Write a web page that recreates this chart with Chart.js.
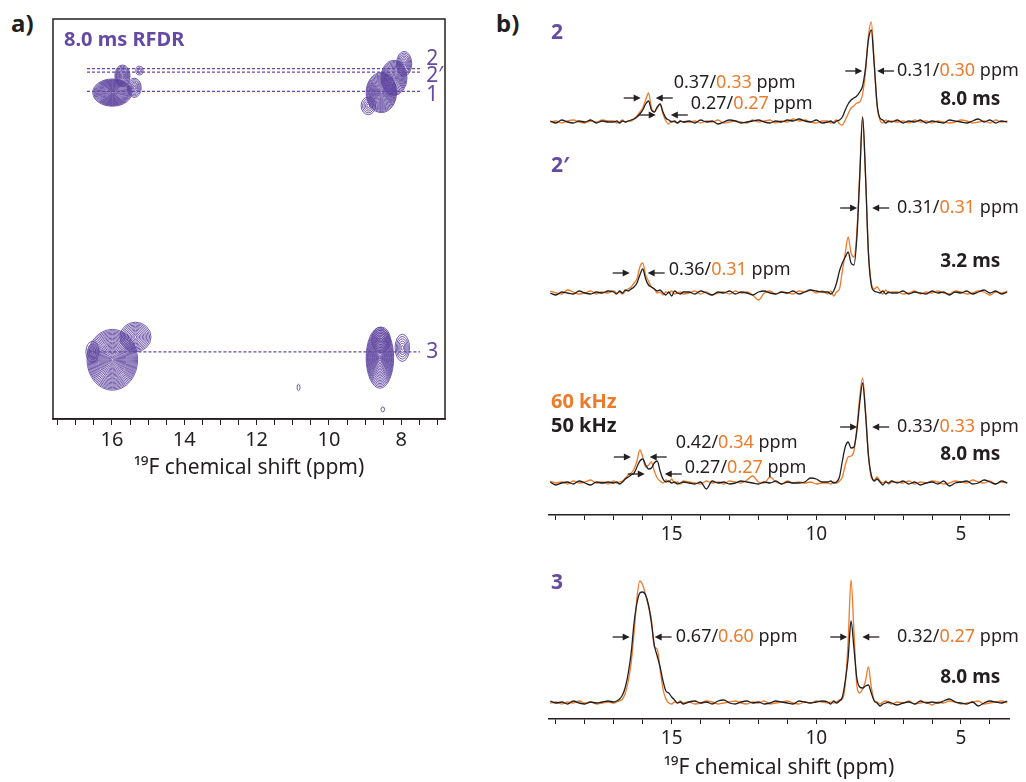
<!DOCTYPE html>
<html>
<head>
<meta charset="utf-8">
<script src="https://cdn.jsdelivr.net/npm/chart.js@4.4.1/dist/chart.umd.min.js"></script>
<style>
  body { margin:0; background:#fff; width:1026px; height:782px; position:relative; overflow:hidden; font-family:'Noto Sans', sans-serif; }
  canvas { position:absolute; }
  .panel { position:absolute; font-weight:bold; font-size:24px; line-height:24px; color:#231f20; }
</style>
</head>
<body>
<div class="panel" style="left:11px;top:11px">a)</div>
<div class="panel" style="left:496px;top:11px">b)</div>
<canvas id="ca" width="470" height="500" style="left:0;top:0"></canvas>
<canvas id="cb" width="506" height="560" style="left:520px;top:0"></canvas>
<canvas id="cc" width="506" height="222" style="left:520px;top:560px"></canvas>
<script>
// ---- panel a: 2D 19F-19F RFDR spectrum, peaks as (F2 ppm, F1 position, widths, contour levels)
const peakX  = [15.99, 15.71, 15.38, 15.24, 8.55, 8.20, 7.92, 8.91, 15.99, 15.35, 16.54, 8.59, 8.56, 7.97, 8.51, 10.84];
const peakY  = [81.6, 85.8, 82.8, 87.1, 81.6, 85.3, 88.8, 78.3, 14.8, 20.5, 16.8, 15.3, 19.8, 17.8, 2.4, 7.9];
const peakWx = [0.54, 0.21, 0.19, 0.10, 0.42, 0.36, 0.21, 0.20, 0.70, 0.43, 0.18, 0.38, 0.26, 0.20, 0.05, 0.04];
const peakWy = [3.4, 2.7, 2.4, 1.1, 5.0, 4.4, 3.1, 2.2, 7.6, 3.7, 2.6, 7.6, 3.2, 3.4, 0.6, 0.8];
const peakLevels = [22, 10, 7, 3, 20, 15, 8, 5, 24, 11, 4, 20, 8, 6, 1, 1];

// slices drawn as dashed rows
const rowNames = ['2', '2′', '1', '3'];
const rowLevel = [87.6, 86.7, 81.9, 16.8];
const rowStart = [16.69, 16.69, 16.69, 16.65];
const rowEnd   = [7.43, 7.43, 7.43, 7.48];
const rowLabelLevel = [89.9, 85.8, 81.1, 16.8];

// ---- panel b: 1D slices, 50 kHz (black) and 60 kHz (orange) MAS
const ppm = [
  19.2, 19.0, 18.8, 18.6, 18.4, 18.2, 18.0, 17.8, 17.6, 17.4, 17.2,
  17.0, 16.9, 16.8, 16.7, 16.6, 16.5, 16.4, 16.3, 16.2, 16.1, 16.0, 15.9, 15.8, 15.7, 15.6, 15.5, 15.4, 15.3, 15.2, 15.1, 15.0, 14.9, 14.8, 14.7, 14.6,
  14.4, 14.2, 14.0, 13.8, 13.6, 13.4, 13.2, 13.0, 12.8, 12.6, 12.4, 12.2, 12.0, 11.8, 11.6, 11.4, 11.2, 11.0, 10.8, 10.6, 10.4, 10.2, 10.0, 9.8,
  9.6, 9.5, 9.4, 9.3, 9.2, 9.1, 9.0, 8.9, 8.8, 8.7, 8.6, 8.5, 8.4, 8.3, 8.2, 8.1, 8.0, 7.9, 7.8, 7.7, 7.6, 7.5, 7.4,
  7.2, 7.0, 6.8, 6.6, 6.4, 6.2, 6.0, 5.8, 5.6, 5.4, 5.2, 5.0, 4.8, 4.6, 4.4, 4.2, 4.0, 3.8, 3.6, 3.4
];
const row2_50 = [
  1, -1, 2, 0, -1, 1, 0, 2, -1, 1, 0,
  0, 1, -1, 1, 0, 1, 2, 3, 5, 8, 12, 18, 21, 12, 10, 15, 18, 10, 4, 2, 0, 1, -1, 1, 0,
  1, -1, 2, 0, 1, -2, 0, 2, 1, -1, 0, 1, 2, 0, -1, 1, 0, 2, 1, 3, 1, 0, 2, -1,
  0, 1, -1, 1, 2, 5, 12, 18, 22, 24, 26, 30, 36, 54, 82, 92, 58, 18, 4, 2, -1, 1, 0,
  2, -1, 1, 0, 2, -1, 1, 0, -1, 2, 1, 0, -1, 1, 3, 0, 2, -1, 1, 0
];
const row2_60 = [
  0, 1, -1, 1, 2, 0, -1, 1, 0, 2, 1,
  1, -1, 0, 2, 0, 1, 1, 3, 6, 10, 14, 22, 29, 14, 10, 14, 18, 8, 1, -2, 1, 0, -1, 1, 0,
  0, 1, -1, 1, 0, 2, -1, 0, 1, 0, -1, 2, 0, 1, 2, -1, 1, 0, 3, 1, 2, 0, -1, 1,
  1, -1, 0, 2, -2, -3, 2, 8, 14, 16, 19, 20, 28, 50, 86, 100, 60, 16, 2, -1, 2, 0, 1,
  0, 1, -1, 2, 0, 1, -1, 1, 0, -1, 0, 2, 1, -1, 0, 1, -1, 2, 0, 1
];
const row2p_50 = [
  0, -2, 1, 0, -1, 2, 0, -1, 1, 0, 2,
  1, -1, 2, 0, 3, 2, 4, 6, 10, 18, 24, 14, 8, 6, 4, 2, 3, 0, -2, 1, -3, 2, 0, -1, 1,
  1, -1, 2, 0, -2, 1, 0, 2, -1, 1, 0, -2, 1, 2, 0, -1, 1, 0, 2, -1, 1, 3, 2, 1,
  1, -1, 2, 10, 22, 30, 36, 41, 30, 28, 55, 115, 176, 118, 40, 8, 2, 1, 0, 2, -1, 1, 0,
  0, 2, -1, 1, 0, -1, 2, 0, 1, -2, 1, 0, 2, -1, 1, 3, 0, 2, -1, 1
];
const row2p_60 = [
  2, 0, -1, 3, 1, -1, 0, 2, -1, 1, 0,
  2, 0, 1, -1, 2, 4, 6, 10, 14, 26, 30, 18, 12, 6, 4, 0, 1, -2, 1, 0, 2, -1, 0, 1, -1,
  0, 2, -1, 1, -2, 0, 1, -1, 2, 0, 1, -2, -7, 0, 2, -1, 1, 0, -1, 2, 1, 3, 0, 2,
  -1, 2, -3, 1, 4, 22, 40, 56, 40, 36, 60, 120, 176, 118, 42, 10, 4, 6, 2, -1, 3, 0, 1,
  1, -1, 0, 2, -1, 1, 0, 2, 0, -1, 2, 1, -1, 0, 2, 1, -2, 1, 0, 2
];
const row1_50 = [
  1, -2, 0, 1, -1, 2, 0, -2, 1, 0, 1,
  0, 1, -1, 1, 4, 6, 8, 10, 16, 22, 24, 18, 14, 15, 20, 22, 12, 4, 1, 2, 0, 1, -1, 0, 1,
  0, -1, 1, -6, 2, 0, 1, -1, 0, 2, 1, 0, -1, 1, 0, 2, -1, 1, 0, 0, 1, 5, 4, 1,
  1, 2, 0, 1, 6, 22, 36, 41, 35, 36, 52, 80, 100, 70, 28, 8, 2, 4, 1, -2, 1, 0, 2,
  0, 2, -1, 1, -2, 0, 1, -1, 2, -3, 0, 1, 2, -1, 0, 3, 1, -1, 2, 0
];
const row1_60 = [
  2, 0, 1, -1, 2, 0, 1, 3, 0, 1, -1,
  2, 0, 1, 2, 5, 8, 10, 14, 22, 33, 26, 16, 18, 21, 12, 5, 2, 0, 3, 1, 4, 0, 1, -1, 2,
  1, 0, -1, 2, 0, 1, -1, 2, 1, 0, 3, 7, 1, 0, 6, 1, -1, 2, 0, 1, 0, 1, -1, 0,
  0, -1, 1, 0, 2, 6, 18, 26, 27, 32, 55, 86, 105, 72, 28, 6, 3, 6, 2, 0, 2, -1, 1,
  1, 0, 2, -1, 1, 0, 2, 1, -1, 0, 2, 1, 0, 3, 1, 0, 2, -1, 1, 0
];
const row3_50 = [
  2, 0, 1, -1, 2, 0, -1, 1, 0, 1, 2,
  1, 2, 4, 8, 16, 30, 50, 80, 100, 110, 111, 108, 98, 80, 58, 47, 36, 22, 12, 10, 6, 3, 0, 1, -1,
  1, 2, 0, 1, -1, 2, 3, 0, -1, 1, 2, 0, 1, -1, 0, 2, 1, 0, -1, 2, 1, 0, 1, 2,
  1, -1, 2, 0, 2, 6, 22, 45, 82, 55, 25, 16, 15, 17, 18, 10, 2, 0, -3, -1, 0, 1, 0,
  -2, 0, 1, -1, 2, 0, 1, 0, 2, 4, 1, 0, -1, 1, -3, 0, 2, 1, 0, 2
];
const row3_60 = [
  0, 1, -1, 1, 0, 2, 0, 1, -1, 0, 1,
  0, 1, 2, 4, 10, 22, 40, 70, 105, 122, 118, 108, 96, 84, 56, 54, 34, 14, 4, 0, -1, 1, 0, 2, 0,
  1, -1, 0, 2, 1, -1, 0, 1, 2, 0, -1, 1, 0, 2, -1, 0, 1, 2, 0, -1, 1, 0, 2, 1,
  0, 1, 0, 1, 3, 4, 18, 62, 123, 72, 18, 10, 14, 22, 36, 16, 3, 1, -1, 1, 2, 0, -1,
  1, 0, 2, -1, 0, 1, -2, 1, 0, 2, 1, -1, 0, 1, 2, -1, 0, 1, 2, 0
];
const traces50 = [row2_50, row2p_50, row1_50, row3_50];
const traces60 = [row2_60, row2p_60, row1_60, row3_60];

// linewidths (ppm) written on the slices: [slice, text ppm, level, 50 kHz, 60 kHz]
const fwhmLabels = [
  [0, 7.21, 51, '0.31', '0.30'],
  [0, 14.93, 39, '0.37', '0.33'],
  [0, 14.34, 18, '0.27', '0.27'],
  [1, 7.21, 85, '0.31', '0.31'],
  [1, 15.10, 23, '0.36', '0.31'],
  [2, 7.21, 56, '0.33', '0.33'],
  [2, 14.86, 40, '0.42', '0.34'],
  [2, 14.55, 15, '0.27', '0.27'],
  [3, 14.86, 66, '0.67', '0.60'],
  [3, 7.21, 66, '0.32', '0.27']
];
// width arrows: [slice, left tip ppm, right tip ppm, level]
const arrowPairs = [
  [0, 8.41, 7.90, 51],
  [0, 16.07, 15.55, 24],
  [0, 15.55, 15.03, 7],
  [1, 8.59, 8.07, 85],
  [1, 16.45, 15.83, 20],
  [2, 8.59, 8.07, 56],
  [2, 16.41, 15.76, 26],
  [2, 15.93, 15.24, 9],
  [3, 16.45, 15.59, 66],
  [3, 8.93, 8.41, 66]
];
const mixTimes = ['8.0 ms', '3.2 ms', '8.0 ms', '8.0 ms'];
const mixLevel = [22, 31, 28, 25];
const sliceNames = ['2', '2′', '', '3'];
const sliceNameLevel = [88.5, 127, 0, 119.5];

const FONT = "'Noto Sans', sans-serif";
const BLACK = '#231f20', ORANGE = '#ec7b2b', PURPLE = '#6549a3';
const specBase = [393, 222, 32, 16];   // vertical stacking of the slices

// ---------- panel a
const panelA = {
  id: 'panelA',
  beforeDatasetsDraw(chart) {
    const { ctx, scales: { x, y } } = chart;
    ctx.save();
    ctx.strokeStyle = '#5a3f9c';
    ctx.lineWidth = 0.85;
    peakX.forEach((px, i) => {
      const cx = x.getPixelForValue(px), cy = y.getPixelForValue(peakY[i]);
      const rx = Math.abs(x.getPixelForValue(px + peakWx[i]) - cx);
      const ry = Math.abs(y.getPixelForValue(peakY[i] + peakWy[i]) - cy);
      const n = peakLevels[i];
      for (let k = 1; k <= n; k++) {
        ctx.beginPath();
        ctx.ellipse(cx, cy, Math.max(rx * k / n, 0.8), Math.max(ry * k / n, 0.8), 0, 0, Math.PI * 2);
        ctx.stroke();
      }
    });
    ctx.restore();
  },
  afterDraw(chart) {
    const { ctx, chartArea: a, scales: { x, y } } = chart;
    ctx.save();
    ctx.strokeStyle = BLACK;
    ctx.lineWidth = 1.5;
    ctx.strokeRect(a.left, a.top, a.right - a.left, a.bottom - a.top);
    ctx.fillStyle = PURPLE;
    ctx.textBaseline = 'middle';
    ctx.font = `bold 20px ${FONT}`;
    ctx.fillText('8.0 ms RFDR', a.left + 11, a.top + 21);
    ctx.font = `21px ${FONT}`;
    rowNames.forEach((n, i) => ctx.fillText(n, x.getPixelForValue(7.31), y.getPixelForValue(rowLabelLevel[i])));
    ctx.restore();
  }
};

new Chart(document.getElementById('ca'), {
  type: 'line',
  data: {
    datasets: rowNames.map((n, i) => ({
      data: [{ x: rowStart[i], y: rowLevel[i] }, { x: rowEnd[i], y: rowLevel[i] }],
      borderColor: PURPLE, borderWidth: 1.2, borderDash: [3, 2], pointRadius: 0
    }))
  },
  options: {
    responsive: false, animation: false,
    layout: { padding: { left: 53, top: 19, right: 25, bottom: 0 } },
    plugins: { legend: { display: false }, tooltip: { enabled: false } },
    scales: {
      x: {
        type: 'linear', reverse: true, min: 6.79, max: 17.63,
        afterFit: s => { s.height = 81; },
        ticks: {
          stepSize: 0.5, includeBounds: false, autoSkip: false, maxRotation: 0, padding: 3,
          color: BLACK, font: { family: FONT, size: 20 },
          callback: v => (Math.abs(v / 2 - Math.round(v / 2)) < 1e-6 ? String(v) : '')
        },
        grid: { drawOnChartArea: false, tickLength: 6, color: BLACK },
        border: { color: BLACK, width: 1.5 },
        title: { display: true, text: '¹⁹F chemical shift (ppm)', color: BLACK, font: { family: FONT, size: 21 }, padding: { bottom: 19 } }
      },
      y: { display: false, min: 0, max: 100 }
    }
  },
  plugins: [panelA]
});

// ---------- panel b
function drawArrow(ctx, tipX, y, dir) {
  ctx.beginPath();
  ctx.moveTo(tipX - 17 * dir, y);
  ctx.lineTo(tipX - 5 * dir, y);
  ctx.stroke();
  ctx.beginPath();
  ctx.moveTo(tipX, y);
  ctx.lineTo(tipX - 7 * dir, y - 3.5);
  ctx.lineTo(tipX - 7 * dir, y + 3.5);
  ctx.closePath();
  ctx.fill();
}

const annot = {
  id: 'annot',
  afterDatasetsDraw(chart, args, opts) {
    const { ctx, scales: { x, y } } = chart;
    const py = (s, lvl) => y.getPixelForValue(specBase[s] + lvl);
    const mine = r => opts.specs.includes(r[0]);
    ctx.save();
    ctx.textBaseline = 'middle';
    ctx.textAlign = 'left';
    ctx.strokeStyle = BLACK; ctx.fillStyle = BLACK; ctx.lineWidth = 1.3;
    arrowPairs.filter(mine).forEach(([s, l, r, lvl]) => {
      drawArrow(ctx, x.getPixelForValue(l), py(s, lvl), 1);
      drawArrow(ctx, x.getPixelForValue(r), py(s, lvl), -1);
    });
    ctx.font = `18px ${FONT}`;
    fwhmLabels.filter(mine).forEach(([s, p, lvl, b, o]) => {
      let px = x.getPixelForValue(p);
      [[b, BLACK], ['/', BLACK], [o, ORANGE], [' ppm', BLACK]].forEach(([t, c]) => {
        ctx.fillStyle = c;
        ctx.fillText(t, px, py(s, lvl));
        px += ctx.measureText(t).width;
      });
    });
    opts.specs.forEach(s => {
      ctx.font = `bold 19px ${FONT}`;
      ctx.fillStyle = BLACK;
      ctx.fillText(mixTimes[s], x.getPixelForValue(5.72), py(s, mixLevel[s]));
      ctx.font = `bold 21px ${FONT}`;
      ctx.fillStyle = PURPLE;
      if (sliceNames[s]) ctx.fillText(sliceNames[s], x.getPixelForValue(19.17), py(s, sliceNameLevel[s]));
      if (s === 2) {
        ctx.font = `bold 20px ${FONT}`;
        ctx.fillStyle = ORANGE;
        ctx.fillText('60 kHz', x.getPixelForValue(19.17), py(s, 80.5));
        ctx.fillStyle = BLACK;
        ctx.fillText('50 kHz', x.getPixelForValue(19.17), py(s, 56.5));
      }
    });
    ctx.restore();
  }
};

function spectraChart(id, specs, yMax, padTop, axisH, withTitle) {
  const datasets = [];
  specs.forEach(s => {
    datasets.push({ data: ppm.map((p, i) => ({ x: p, y: specBase[s] + traces50[s][i] })), borderColor: BLACK });
    datasets.push({ data: ppm.map((p, i) => ({ x: p, y: specBase[s] + traces60[s][i] })), borderColor: ORANGE });
  });
  datasets.forEach(d => Object.assign(d, { borderWidth: 1.3, pointRadius: 0, cubicInterpolationMode: 'monotone' }));
  return new Chart(document.getElementById(id), {
    type: 'line',
    data: { datasets },
    options: {
      responsive: false, animation: false,
      layout: { padding: { left: 29, top: padTop, right: 17, bottom: 0 } },
      plugins: { legend: { display: false }, tooltip: { enabled: false }, annot: { specs } },
      scales: {
        x: {
          type: 'linear', reverse: true, min: 3.34, max: 19.24,
          afterFit: sc => { sc.height = axisH; },
          ticks: {
            stepSize: 1, includeBounds: false, autoSkip: false, maxRotation: 0, padding: 3,
            color: BLACK, font: { family: FONT, size: 19 },
            callback: v => (Math.round(v) % 5 === 0 ? String(v) : '')
          },
          grid: { drawOnChartArea: false, tickLength: 5, color: BLACK },
          border: { color: BLACK, width: 1.5 },
          title: { display: withTitle, text: '¹⁹F chemical shift (ppm)', color: BLACK, font: { family: FONT, size: 21 }, padding: { bottom: 1 } }
        },
        y: { display: false, min: 0, max: yMax }
      }
    },
    plugins: [annot]
  });
}

spectraChart('cb', [0, 1, 2], 500, 15, 45, false);
spectraChart('cc', [3], 144, 15, 63, true);
</script>
</body>
</html>
